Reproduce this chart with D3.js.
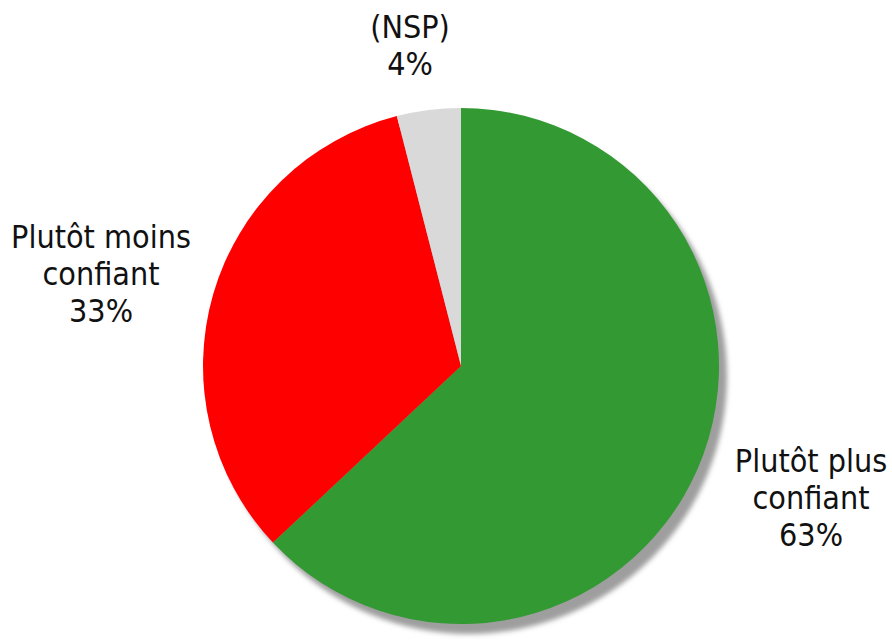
<!DOCTYPE html>
<html>
<head>
<meta charset="utf-8">
<script src="https://cdn.jsdelivr.net/npm/d3@7"></script>
<style>
  body { margin: 0; background: #fff; }
  svg { display: block; }
</style>
</head>
<body>
<svg width="892" height="641"></svg>
<script>
var labels = ['Plutôt plus confiant', 'Plutôt moins confiant', '(NSP)'];
var labelLines = [['Plutôt plus', 'confiant'], ['Plutôt moins', 'confiant'], ['(NSP)']];
var values = [63, 33, 4];
var colors = ['#339933', '#ff0000', '#d9d9d9'];

var svg = d3.select('svg'),
  cx = 461,
  cy = 366,
  radius = 258;

var defs = svg.append('defs');
var filter = defs.append('filter')
  .attr('id', 'shadow')
  .attr('x', '-10%').attr('y', '-10%')
  .attr('width', '130%').attr('height', '130%');
filter.append('feGaussianBlur').attr('stdDeviation', 2.5);

var data = labels.map(function (d, i) {
  return { label: d, lines: labelLines[i], value: values[i], color: colors[i] };
});

var pie = d3.pie()
  .sort(null)
  .value(function (d) { return d.value; });

var arc = d3.arc().innerRadius(0).outerRadius(radius);

var g = svg.append('g').attr('transform', 'translate(' + cx + ',' + cy + ')');

// drop shadow behind the pie
g.append('circle')
  .attr('cx', 8)
  .attr('cy', 10)
  .attr('r', radius)
  .attr('fill', '#9e9e9e')
  .attr('filter', 'url(#shadow)');

g.selectAll('path')
  .data(pie(data))
  .enter()
  .append('path')
  .attr('d', arc)
  .attr('fill', function (d) { return d.data.color; });

// label anchor positions (relative to pie centre), first baseline
var labelPos = [[350, 106], [-360, -118], [-51, -328]];
var lineH = 37;

var lbl = g.selectAll('g.label')
  .data(data)
  .enter()
  .append('g')
  .attr('class', 'label')
  .attr('transform', function (d, i) {
    return 'translate(' + labelPos[i][0] + ',' + labelPos[i][1] + ')';
  });

lbl.each(function (d) {
  var t = d3.select(this).append('text')
    .attr('text-anchor', 'middle')
    .style('font-family', '"DejaVu Sans Condensed", "DejaVu Sans", sans-serif')
    .style('font-size', '32px')
    .attr('fill', '#111');
  var lines = d.lines.concat([d.value + '%']);
  lines.forEach(function (s, j) {
    t.append('tspan').attr('x', 0).attr('y', j * lineH).text(s);
  });
});
</script>
</body>
</html>
